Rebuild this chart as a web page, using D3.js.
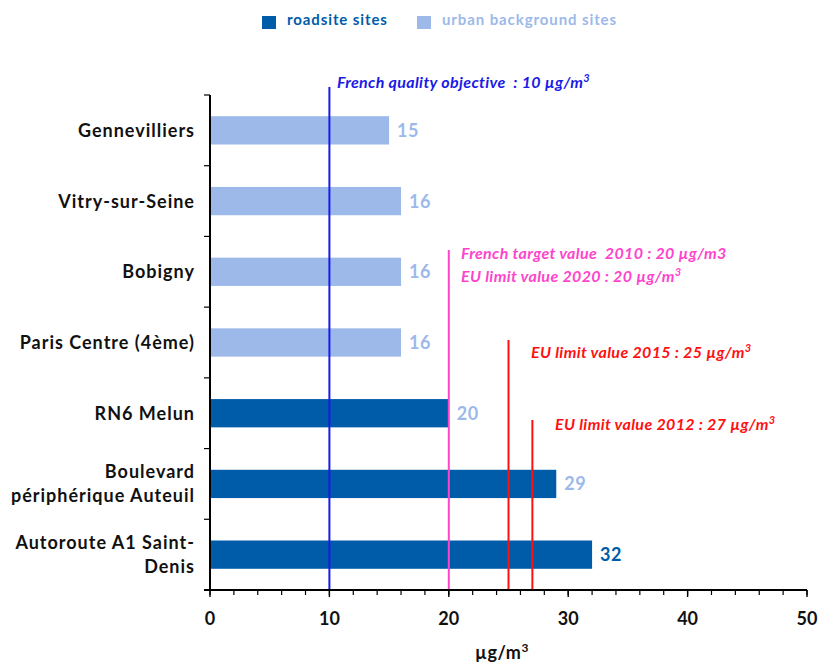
<!DOCTYPE html>
<html>
<head>
<meta charset="utf-8">
<script src="https://cdn.jsdelivr.net/npm/d3@7"></script>
<style>
  html, body { margin: 0; padding: 0; background: #fff; }
  svg { display: block; font-family: Lato, "Open Sans", sans-serif; }
  text { white-space: pre; }
</style>
</head>
<body>
<svg id="chart" width="822" height="664"></svg>
<script>
// Annual mean concentrations per monitoring site (µg/m³)
const sites = [
  ["Gennevilliers"],
  ["Vitry-sur-Seine"],
  ["Bobigny"],
  ["Paris Centre (4ème)"],
  ["RN6 Melun"],
  ["Boulevard", "périphérique Auteuil"],
  ["Autoroute A1 Saint-", "Denis"]
];
const values = [15, 16, 16, 16, 20, 29, 32];
const siteTypes = ["urban", "urban", "urban", "urban", "roadside", "roadside", "roadside"];
const labelTypes = ["urban", "urban", "urban", "urban", "urban", "urban", "roadside"];

const seriesNames = ["roadsite sites", "urban background sites"];

// Regulatory thresholds
const thresholdValues = [10, 20, 25, 27];
const thresholdTops = [87, 250, 340, 420];
const thresholdColors = ["#1a1ae6", "#ff44cc", "#ff1010", "#ff1010"];
const thresholdTexts = [
  ["French quality objective  : 10 µg/m", "3"],
  ["French target value  2010 : 20 µg/m3", ""],
  ["EU limit value 2020 : 20 µg/m", "3"],
  ["EU limit value 2015 : 25 µg/m", "3"],
  ["EU limit value 2012 : 27 µg/m", "3"]
];
const thresholdTextColors = ["#1a1ae6", "#ff44cc", "#ff44cc", "#ff1010", "#ff1010"];
const thresholdTextPos = [[337, 88], [461, 259], [461, 282], [531, 358], [555, 430]];

const xTicks = [0, 10, 20, 30, 40, 50];

const colors = { roadside: "#005ca9", urban: "#9cb9ea" };

const svg = d3.select("#chart");
const margin = { left: 210, top: 95, bottom: 590 };

const x = d3.scaleLinear().domain([0, 50]).range([margin.left, 807]);
const y = d3.scaleBand().domain(d3.range(sites.length)).range([margin.top, margin.bottom]).paddingInner(0.6).paddingOuter(0.3);
const yOuter = d3.scaleBand().domain(d3.range(sites.length)).range([margin.top, margin.bottom]);

// Bars
svg.append("g").selectAll("rect").data(values).join("rect")
  .attr("x", x(0))
  .attr("y", (d, i) => y(i))
  .attr("width", d => x(d) - x(0))
  .attr("height", y.bandwidth())
  .attr("fill", (d, i) => colors[siteTypes[i]]);

// Value labels
svg.append("g").selectAll("text").data(values).join("text")
  .attr("x", d => x(d) + 8)
  .attr("y", (d, i) => y(i) + y.bandwidth() / 2)
  .attr("dy", "0.36em")
  .attr("font-size", 18)
  .attr("letter-spacing", 0.5)
  .attr("font-weight", "bold")
  .attr("fill", (d, i) => colors[labelTypes[i]])
  .text(d => d);

// Threshold lines
svg.append("g").selectAll("line").data(thresholdValues).join("line")
  .attr("x1", d => x(d)).attr("x2", d => x(d))
  .attr("y1", (d, i) => thresholdTops[i]).attr("y2", margin.bottom)
  .attr("stroke", (d, i) => thresholdColors[i])
  .attr("stroke-width", 2);

// Threshold annotations
const ann = svg.append("g").selectAll("text").data(thresholdTexts).join("text")
  .attr("x", (d, i) => thresholdTextPos[i][0])
  .attr("y", (d, i) => thresholdTextPos[i][1])
  .attr("font-size", 16)
  .attr("letter-spacing", 0.35)
  .attr("font-weight", "bold")
  .attr("font-style", "italic")
  .attr("fill", (d, i) => thresholdTextColors[i]);
ann.append("tspan").text(d => d[0]);
ann.append("tspan").attr("font-size", 11).attr("dy", -6).text(d => d[1]);

// Y axis (category boundaries as ticks)
const yAxis = svg.append("g");
yAxis.append("line").attr("x1", x(0)).attr("x2", x(0)).attr("y1", margin.top).attr("y2", margin.bottom)
  .attr("stroke", "#000").attr("stroke-width", 2);
const bounds = d3.range(sites.length + 1).map(i => i < sites.length ? yOuter(i) : margin.bottom);
yAxis.selectAll("line.tk").data(bounds).join("line").attr("class", "tk")
  .attr("x1", x(0) - 6).attr("x2", x(0)).attr("y1", d => d).attr("y2", d => d)
  .attr("stroke", "#000").attr("stroke-width", 1.2);

// Category labels
const cat = svg.append("g").selectAll("text").data(sites).join("text")
  .attr("text-anchor", "end")
  .attr("font-size", 18)
  .attr("letter-spacing", 1)
  .attr("font-weight", "bold")
  .attr("fill", "#111")
  .attr("transform", (d, i) => `translate(195, ${y(i) + y.bandwidth() / 2})`);
cat.selectAll("tspan").data(d => d.map((t, k) => ({ t, k, n: d.length }))).join("tspan")
  .attr("x", 0)
  .attr("y", d => (d.k - (d.n - 1) / 2) * 24)
  .attr("dy", "0.36em")
  .text(d => d.t);

// X axis
const xAxisG = svg.append("g").attr("transform", `translate(0,${margin.bottom})`);
xAxisG.append("line").attr("x1", x(0) - 6).attr("x2", x(50)).attr("y1", 0).attr("y2", 0)
  .attr("stroke", "#000").attr("stroke-width", 2);
xAxisG.selectAll("line.minor").data(d3.range(0, 51, 2)).join("line").attr("class", "minor")
  .attr("x1", d => x(d)).attr("x2", d => x(d)).attr("y1", 0).attr("y2", 5)
  .attr("stroke", "#000").attr("stroke-width", 1.2);
xAxisG.selectAll("line.major").data(xTicks).join("line").attr("class", "major")
  .attr("x1", d => x(d)).attr("x2", d => x(d)).attr("y1", 0).attr("y2", 7)
  .attr("stroke", "#000").attr("stroke-width", 1.4);
xAxisG.selectAll("text").data(xTicks).join("text")
  .attr("x", d => x(d)).attr("y", 35)
  .attr("text-anchor", "middle")
  .attr("font-size", 18).attr("font-weight", "bold").attr("fill", "#111")
  .text(d => d);

// Axis title
const xt = svg.append("text").attr("x", 502).attr("y", 659).attr("text-anchor", "middle")
  .attr("font-size", 18).attr("letter-spacing", 0.5).attr("font-weight", "bold").attr("fill", "#111");
xt.append("tspan").text("µg/m");
xt.append("tspan").attr("font-size", 12).attr("dy", -7).text("3");

// Legend
const legendX = [262, 417];
const legendColors = [colors.roadside, colors.urban];
const lg = svg.append("g").selectAll("g").data(seriesNames).join("g")
  .attr("transform", (d, i) => `translate(${legendX[i]}, 16)`);
lg.append("rect").attr("width", 14).attr("height", 13).attr("fill", (d, i) => legendColors[i]);
lg.append("text").attr("x", 25).attr("y", 9).attr("font-size", 15).attr("letter-spacing", 0.9)
  .attr("font-weight", "bold")
  .attr("fill", (d, i) => legendColors[i]).text(d => d);
</script>
</body>
</html>
